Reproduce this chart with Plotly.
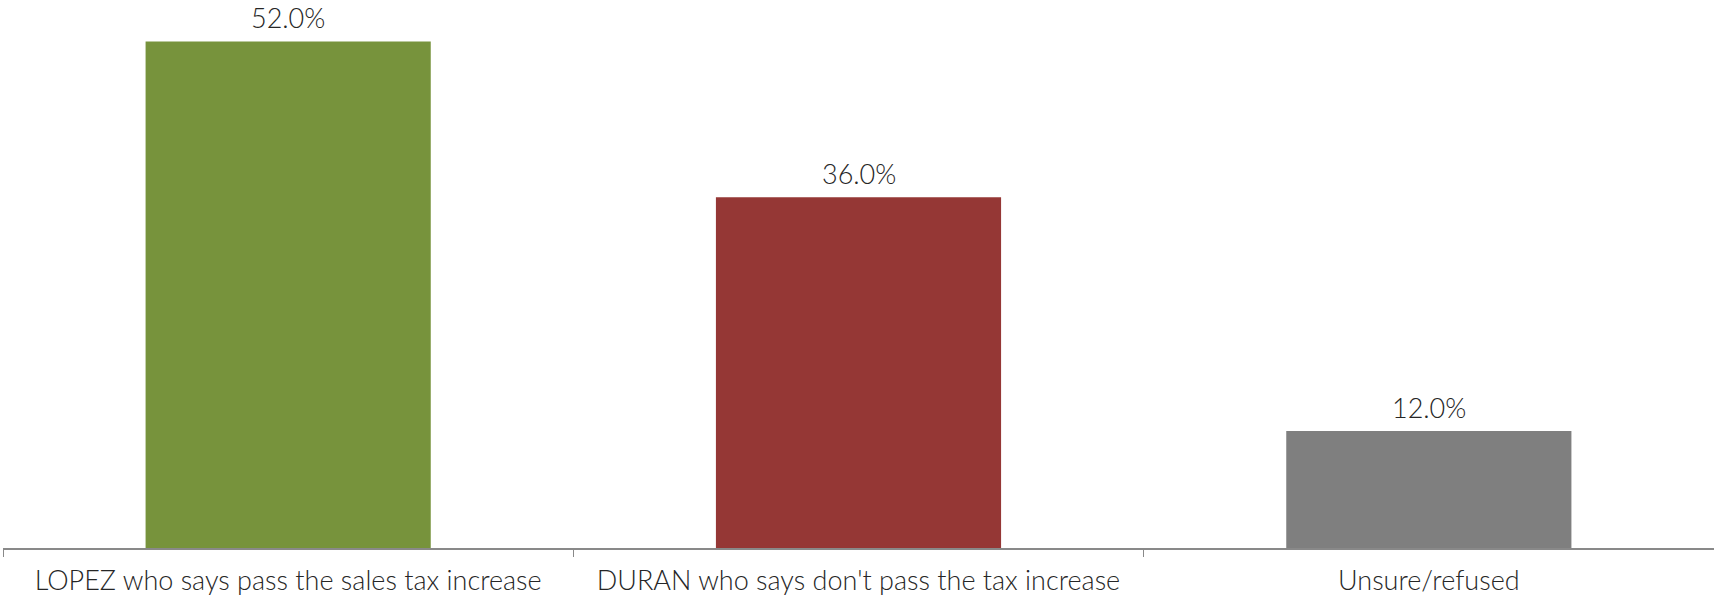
import plotly.graph_objects as go

categories = ["LOPEZ who says pass the sales tax increase",
              "DURAN who says don't pass the tax increase",
              "Unsure/refused"]
values = [52.0, 36.0, 12.0]
colors = ["#77933C", "#953735", "#7F7F7F"]

FONT = "Lato"
TEXT = "#262626"

fig = go.Figure()
fig.add_trace(go.Bar(
    x=categories, y=values, width=0.5,
    marker=dict(color=colors, line=dict(width=0)),
    hoverinfo="skip",
))

for c, v in zip(categories, values):
    fig.add_annotation(x=c, y=v, text=f"{v:.1f}%", showarrow=False,
                       yanchor="middle", yshift=24,
                       font=dict(family=FONT, size=27, color=TEXT, weight=300))

fig.update_layout(
    width=1714, height=596,
    margin=dict(l=3, r=0, t=0, b=48),
    paper_bgcolor="white", plot_bgcolor="white",
    showlegend=False,
    bargap=0.5,
)
fig.update_xaxes(
    type="category", tickson="boundaries", range=[-0.5, 2.5],
    showline=True, linecolor="#898989", linewidth=1.5,
    ticks="outside", ticklen=7, tickcolor="#898989", tickwidth=1,
    ticklabelstandoff=8,
    tickfont=dict(family=FONT, size=27, color=TEXT, weight=300),
    showgrid=False, zeroline=False, automargin=False,
)
fig.update_yaxes(range=[0, 56.26], visible=False, showgrid=False, zeroline=False)

fig.write_html("out.html", config={"displayModeBar": False},
               post_script="document.body.style.margin='0';document.body.style.padding='0';")
